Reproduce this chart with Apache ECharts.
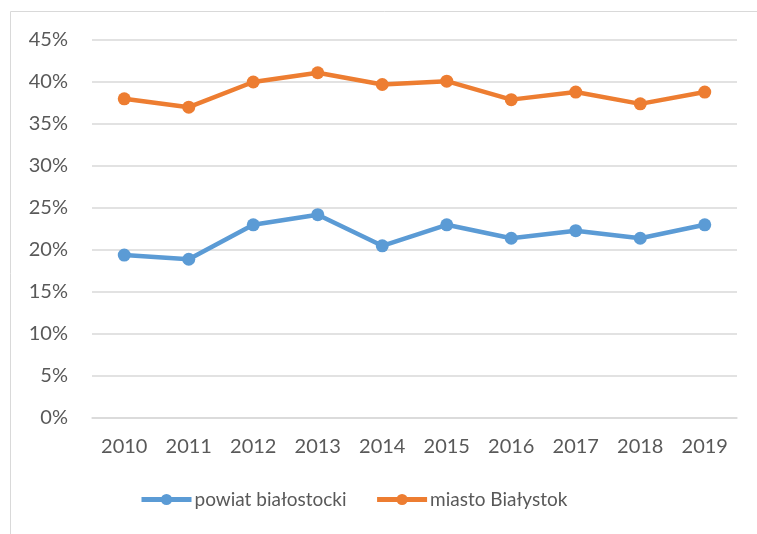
<!DOCTYPE html>
<html>
<head>
<meta charset="utf-8">
<script src="https://cdn.jsdelivr.net/npm/echarts@6/dist/echarts.min.js"></script>
<style>
  html, body { margin: 0; padding: 0; background: #fff; }
  #chart { width: 757px; height: 534px; }
</style>
</head>
<body>
<div id="chart"></div>
<script>
// lata i udział (%)
const years = ['2010', '2011', '2012', '2013', '2014', '2015', '2016', '2017', '2018', '2019'];
const powiat = [19.4, 18.9, 23.0, 24.2, 20.5, 23.0, 21.4, 22.3, 21.4, 23.0];
const miasto = [38.0, 37.0, 40.0, 41.1, 39.7, 40.1, 37.9, 38.8, 37.4, 38.8];
const seriesNames = ['powiat białostocki', 'miasto Białystok'];

const font = 'Lato, "Open Sans", sans-serif';
const textColor = '#595959';

const myChart = echarts.init(document.getElementById('chart'));

const lineSeries = (name, data, color) => ({
  name: name,
  type: 'line',
  data: data,
  symbol: 'circle',
  symbolSize: 13,
  lineStyle: { width: 4.5, color: color },
  itemStyle: { color: color },
  emphasis: { disabled: true }
});

const option = {
  animation: false,
  textStyle: { fontFamily: font },
  graphic: [
    {
      type: 'rect',
      shape: { x: 10.5, y: 11.5, width: 800, height: 600 },
      style: { fill: 'none', stroke: '#d9d9d9', lineWidth: 1 },
      silent: true
    }
  ],
  grid: {
    left: 92,
    right: 20,
    top: 40,
    bottom: 116
  },
  legend: {
    bottom: 20,
    left: 134,
    itemWidth: 50,
    itemHeight: 14,
    itemGap: 28,
    lineStyle: { width: 5 },
    textStyle: { color: textColor, fontSize: 19, fontFamily: font, padding: [0, 0, 0, -2] },
    data: seriesNames
  },
  xAxis: {
    type: 'category',
    data: years,
    boundaryGap: true,
    axisLine: { lineStyle: { color: '#d9d9d9', width: 1.5 } },
    axisTick: { show: false },
    axisLabel: { color: textColor, fontSize: 20, margin: 19 }
  },
  yAxis: {
    type: 'value',
    min: 0,
    max: 45,
    interval: 5,
    axisLine: { show: false },
    axisTick: { show: false },
    splitLine: { lineStyle: { color: '#d9d9d9', width: 1.5 } },
    axisLabel: {
      color: textColor,
      fontSize: 20,
      margin: 24,
      formatter: '{value}%'
    }
  },
  series: [
    lineSeries(seriesNames[0], powiat, '#5b9bd5'),
    lineSeries(seriesNames[1], miasto, '#ed7d31')
  ]
};

myChart.setOption(option);
</script>
</body>
</html>
